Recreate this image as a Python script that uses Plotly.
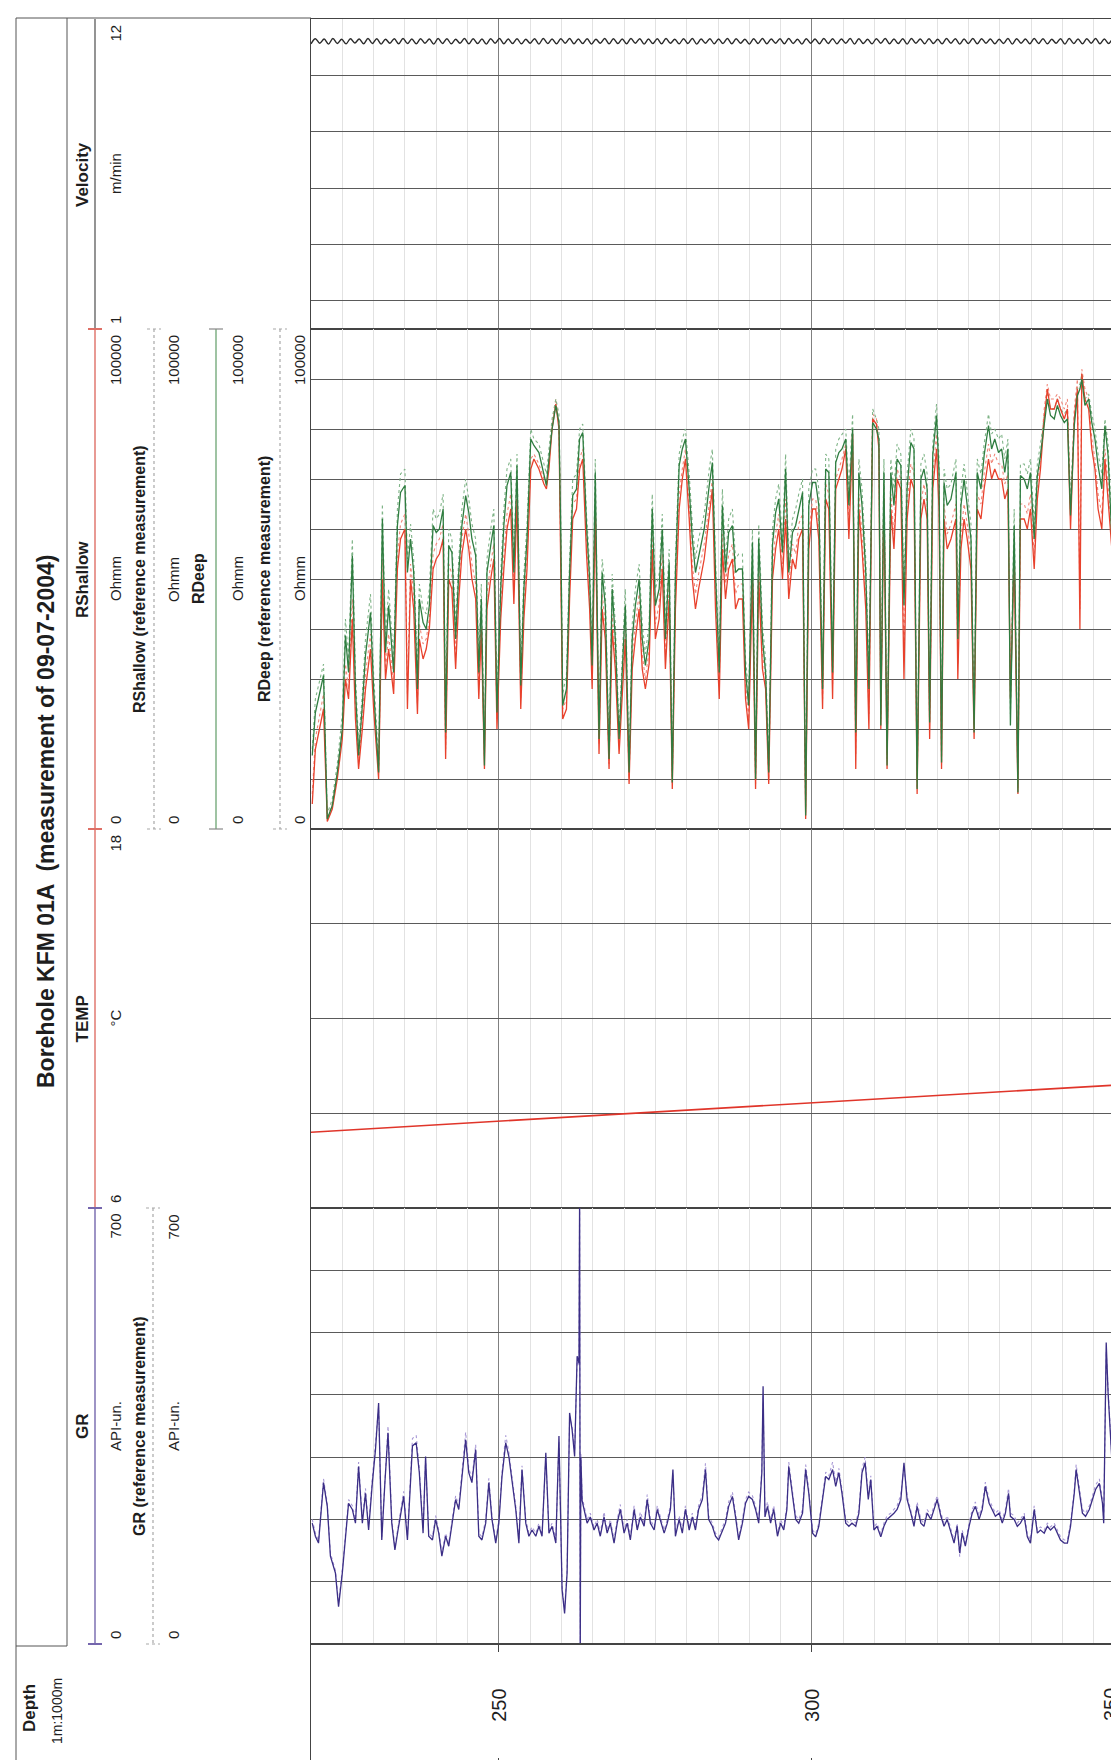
import plotly.graph_objects as go

W, H = 1119, 1760
FONT = "Liberation Sans, Arial, sans-serif"

# ---------------- data ----------------
DEPTH_RANGE = [220, 350]
DEPTH_TICKS = [250, 300, 350]
DEPTH_TICK_LABELS = ["250", "300", "350"]

# Velocity (m/min), logging samples every 0.7 m starting at 220 m
VEL_START = 220.0
VEL_STEP = 0.7
VELOCITY = [
    11.12, 11.30, 11.14, 11.29, 11.11, 11.31, 11.13, 11.28, 11.12, 11.30,
    11.15, 11.29, 11.12, 11.31, 11.13, 11.30, 11.11, 11.28, 11.14, 11.30,
    11.12, 11.31, 11.13, 11.29, 11.12, 11.30, 11.14, 11.29, 11.11, 11.31,
    11.13, 11.30, 11.12, 11.28, 11.14, 11.31, 11.12, 11.30, 11.13, 11.29,
    11.11, 11.30, 11.14, 11.31, 11.12, 11.29, 11.13, 11.30, 11.12, 11.28,
    11.14, 11.30, 11.11, 11.31, 11.13, 11.29, 11.12, 11.30, 11.14, 11.31,
    11.12, 11.29, 11.13, 11.30, 11.11, 11.28, 11.14, 11.31, 11.12, 11.30,
    11.13, 11.29, 11.12, 11.31, 11.14, 11.30, 11.11, 11.29, 11.13, 11.30,
    11.12, 11.31, 11.14, 11.28, 11.12, 11.30, 11.13, 11.31, 11.11, 11.29,
    11.14, 11.30, 11.12, 11.29, 11.13, 11.31, 11.12, 11.30, 11.14, 11.28,
    11.11, 11.30, 11.13, 11.31, 11.12, 11.29, 11.14, 11.30, 11.12, 11.31,
    11.13, 11.28, 11.11, 11.30, 11.14, 11.29, 11.12, 11.31, 11.13, 11.30,
    11.12, 11.29, 11.14, 11.31, 11.11, 11.30, 11.13, 11.28, 11.12, 11.30,
    11.14, 11.31, 11.12, 11.29, 11.13, 11.30, 11.11, 11.31, 11.14, 11.29,
    11.12, 11.30, 11.13, 11.28, 11.12, 11.31, 11.14, 11.30, 11.11, 11.29,
    11.13, 11.31, 11.12, 11.30, 11.14, 11.29, 11.12, 11.28, 11.13, 11.31,
    11.11, 11.30, 11.14, 11.29, 11.12, 11.31, 11.13, 11.30, 11.12, 11.28,
    11.14, 11.30, 11.11, 11.31, 11.13, 11.29, 11.12, 11.30, 11.14, 11.31,
    11.12, 11.29, 11.13, 11.30, 11.11, 11.31, 11.13,
]

# Temperature (deg C)
TEMP_DEPTH = [220, 245, 270, 295, 320, 350]
TEMP = [8.40, 8.69, 8.98, 9.27, 9.56, 9.91]

# Resistivity (kOhmm) - depths of read points
RES_DEPTH = [
    220.2, 220.7, 222.0, 222.6, 223.4, 224.2, 225.0, 225.5, 226.0, 226.6,
    227.1, 227.6, 228.2, 228.7, 229.5, 230.0, 230.8, 231.4, 231.9, 232.4,
    233.2, 233.8, 234.3, 235.0, 235.4, 235.9, 236.4, 237.0, 237.3, 237.9,
    238.4, 238.9, 239.5, 240.0, 240.5, 241.1, 241.5, 242.0, 242.5, 243.1,
    243.6, 244.1, 244.7, 245.2, 245.7, 246.3, 246.8, 247.2, 247.7, 248.1,
    248.7, 249.2, 249.7, 250.3, 250.8, 251.3, 251.9, 252.4, 252.9, 253.5,
    254.0, 254.5, 255.1, 255.6, 256.4, 257.2, 257.6, 258.0, 258.5, 259.1,
    259.6, 259.9, 260.2, 260.8, 261.3, 261.8, 262.4, 262.9, 263.4, 264.0,
    264.5, 264.9, 265.4, 266.0, 266.5, 267.0, 267.6, 268.1, 268.6, 269.2,
    269.7, 270.2, 270.8, 271.3, 271.8, 272.4, 272.9, 273.4, 274.0, 274.5,
    275.0, 275.6, 276.1, 276.6, 277.2, 277.7, 278.2, 278.8, 279.3, 279.8,
    280.4, 280.9, 281.4, 281.9, 282.8, 283.6, 284.1, 284.6, 285.2, 285.7,
    286.2, 286.7, 287.3, 287.8, 288.3, 288.9, 289.4, 289.9, 290.5, 291.0,
    291.5, 292.1, 292.6, 293.1, 293.7, 294.2, 294.7, 295.3, 295.8, 296.3,
    296.9, 297.4, 297.9, 298.5, 299.0, 299.5, 300.1, 300.6, 301.1, 301.7,
    302.2, 302.7, 303.3, 303.8, 304.3, 304.8, 305.4, 305.9, 306.5, 307.0,
    307.5, 308.0, 308.6, 309.1, 309.7, 310.3, 310.7, 311.0, 311.5, 312.0,
    312.6, 313.1, 313.6, 314.2, 314.7, 315.2, 315.8, 316.3, 316.8, 317.4,
    317.9, 318.4, 318.8, 319.3, 319.9, 320.3, 320.7, 321.1, 321.6, 322.2,
    323.0, 323.3, 323.8, 324.3, 324.8, 325.4, 325.9, 326.4, 327.0, 327.5,
    328.2, 328.7, 329.2, 329.8, 330.3, 330.8, 331.3, 331.7, 332.3, 332.9,
    333.3, 333.9, 334.4, 334.9, 335.5, 336.0, 336.5, 337.1, 337.6, 338.1,
    338.7, 339.2, 339.7, 340.3, 340.8, 341.3, 341.9, 342.4, 342.8, 343.1,
    343.6, 344.2, 344.7, 345.2, 345.7, 346.3, 346.8, 347.3, 347.9, 348.4,
    348.9, 349.5, 350.1,
]

RDEEP_KOHMM = [
    14.7, 23.3, 30.7, 2.0, 4.7, 11.3, 20.0, 38.7, 31.3, 54.7,
    28.0, 14.7, 24.7, 34.7, 43.3, 28.0, 11.3, 62.0, 35.3, 44.7,
    31.3, 60.7, 67.3, 68.7, 51.3, 58.0, 51.3, 28.0, 46.0, 41.3,
    40.0, 44.7, 60.7, 59.3, 60.0, 64.0, 19.3, 56.7, 55.3, 38.0,
    51.3, 60.7, 66.7, 63.3, 58.0, 54.7, 31.3, 46.0, 12.7, 51.3,
    56.7, 60.7, 23.3, 48.0, 60.7, 68.7, 71.3, 51.3, 72.7, 28.7,
    48.0, 58.0, 78.0, 76.7, 75.3, 71.3, 68.7, 74.0, 80.0, 84.7,
    81.3, 58.0, 24.7, 28.0, 51.3, 66.7, 68.0, 78.0, 79.3, 60.7,
    50.0, 32.7, 71.3, 18.0, 51.3, 44.7, 14.0, 48.0, 38.0, 18.0,
    31.3, 44.7, 11.3, 38.0, 44.7, 50.0, 38.0, 32.7, 38.0, 64.0,
    44.7, 48.0, 60.0, 38.0, 53.3, 9.3, 51.3, 72.7, 76.0, 78.0,
    68.0, 58.0, 51.3, 54.7, 60.0, 68.7, 73.3, 51.3, 31.3, 64.7,
    51.3, 59.3, 60.7, 51.3, 52.0, 52.0, 31.3, 24.7, 57.3, 10.0,
    58.0, 38.0, 31.3, 11.3, 56.7, 63.3, 66.0, 55.3, 72.0, 51.3,
    59.3, 60.7, 64.0, 67.3, 2.7, 64.7, 69.3, 69.3, 64.7, 28.0,
    72.0, 71.3, 31.3, 73.3, 75.3, 76.0, 78.0, 64.7, 80.0, 19.3,
    71.3, 64.7, 51.3, 28.0, 81.3, 80.0, 78.0, 20.7, 71.3, 12.7,
    71.3, 64.7, 74.0, 72.7, 44.7, 68.0, 77.3, 76.0, 8.0, 70.0,
    72.0, 68.0, 21.3, 74.7, 82.7, 71.3, 13.3, 69.3, 64.7, 66.0,
    71.3, 38.0, 64.7, 70.0, 64.7, 58.0, 19.3, 71.3, 68.0, 74.7,
    80.7, 76.0, 78.0, 75.3, 76.0, 71.3, 76.0, 20.7, 60.7, 7.3,
    70.7, 70.0, 68.0, 71.3, 58.0, 70.7, 74.7, 81.3, 86.0, 82.7,
    82.0, 84.7, 82.7, 81.3, 82.0, 62.7, 80.7, 86.7, 88.0, 90.0,
    84.7, 86.0, 81.3, 78.0, 72.7, 68.0, 80.7, 74.7, 58.0, 72.0,
    71.3, 14.7, 13.3,
]

RSHALLOW_KOHMM = [
    5.0, 16.0, 24.0, 1.5, 4.0, 10.0, 18.0, 30.0, 26.0, 42.0,
    22.0, 12.0, 20.0, 28.0, 36.0, 24.0, 10.0, 50.0, 30.0, 36.0,
    27.0, 52.0, 58.0, 60.0, 24.0, 50.0, 44.0, 23.0, 38.0, 34.0,
    36.0, 40.0, 52.0, 54.0, 55.0, 58.0, 14.0, 50.0, 48.0, 32.0,
    46.0, 55.0, 60.0, 56.0, 50.0, 46.0, 26.0, 40.0, 12.0, 44.0,
    50.0, 54.0, 20.0, 42.0, 52.0, 60.0, 64.0, 45.0, 66.0, 24.0,
    42.0, 52.0, 72.0, 74.0, 72.0, 69.0, 68.0, 72.0, 80.0, 85.0,
    80.0, 50.0, 22.0, 24.0, 46.0, 62.0, 64.0, 72.0, 74.0, 55.0,
    44.0, 28.0, 64.0, 15.0, 44.0, 38.0, 12.0, 40.0, 32.0, 15.0,
    26.0, 38.0, 9.0, 32.0, 38.0, 44.0, 32.0, 28.0, 33.0, 56.0,
    38.0, 42.0, 52.0, 32.0, 46.0, 8.0, 44.0, 64.0, 70.0, 74.0,
    62.0, 50.0, 44.0, 48.0, 54.0, 62.0, 68.0, 44.0, 26.0, 56.0,
    46.0, 52.0, 54.0, 44.0, 46.0, 46.0, 26.0, 20.0, 50.0, 8.0,
    50.0, 32.0, 28.0, 9.0, 50.0, 56.0, 60.0, 50.0, 62.0, 46.0,
    54.0, 52.0, 58.0, 60.0, 2.0, 56.0, 64.0, 64.0, 58.0, 24.0,
    66.0, 64.0, 26.0, 68.0, 70.0, 72.0, 76.0, 58.0, 79.0, 12.0,
    64.0, 56.0, 44.0, 20.0, 82.0, 81.0, 76.0, 20.0, 66.0, 12.0,
    64.0, 56.0, 70.0, 68.0, 30.0, 62.0, 70.0, 68.0, 7.0, 62.0,
    66.0, 62.0, 18.0, 68.0, 76.0, 64.0, 12.0, 62.0, 56.0, 58.0,
    62.0, 30.0, 56.0, 62.0, 58.0, 52.0, 18.0, 64.0, 62.0, 68.0,
    74.0, 70.0, 72.0, 70.0, 70.0, 66.0, 68.0, 26.0, 54.0, 7.0,
    62.0, 62.0, 60.0, 64.0, 52.0, 66.0, 72.0, 82.0, 88.0, 84.0,
    84.0, 86.0, 84.0, 82.0, 84.0, 60.0, 82.0, 88.0, 40.0, 91.0,
    86.0, 84.0, 76.0, 72.0, 64.0, 60.0, 74.0, 66.0, 56.0, 64.0,
    62.0, 14.0, 12.0,
]

RDEEP_REF_KOHMM = [
    16, 26, 33, 3, 6, 13, 23, 42, 34, 58,
    31, 17, 27, 38, 47, 31, 13, 65, 38, 48,
    34, 64, 71, 72, 54, 61, 54, 31, 49, 44,
    43, 48, 64, 62, 63, 67, 22, 60, 58, 41,
    54, 64, 70, 66, 61, 58, 34, 49, 15, 54,
    60, 64, 26, 51, 64, 72, 74, 54, 75, 31,
    51, 61, 80, 78, 77, 73, 71, 76, 82, 86,
    83, 61, 27, 31, 54, 70, 71, 80, 81, 63,
    53, 35, 74, 20, 54, 48, 16, 51, 41, 20,
    34, 48, 13, 41, 48, 53, 41, 35, 41, 67,
    48, 51, 63, 41, 56, 11, 54, 75, 78, 80,
    71, 61, 54, 58, 63, 72, 76, 54, 34, 68,
    54, 62, 64, 54, 55, 55, 34, 27, 60, 12,
    61, 41, 34, 13, 60, 66, 69, 58, 75, 54,
    62, 64, 67, 70, 4, 68, 72, 72, 68, 31,
    75, 74, 34, 76, 78, 79, 80, 68, 83, 22,
    74, 68, 54, 31, 84, 82, 80, 23, 74, 15,
    74, 68, 77, 75, 48, 71, 80, 78, 10, 73,
    75, 71, 24, 77, 85, 74, 15, 72, 68, 69,
    74, 41, 68, 73, 68, 61, 22, 74, 71, 77,
    83, 79, 80, 78, 79, 74, 78, 23, 64, 9,
    73, 73, 71, 74, 61, 73, 77, 83, 87, 84,
    84, 86, 84, 83, 84, 66, 82, 88, 89, 91,
    86, 87, 83, 80, 75, 71, 82, 77, 61, 74,
    74, 17, 15,
]

RSHALLOW_REF_KOHMM = [
    7, 18, 27, 2, 5, 11, 20, 33, 28, 46,
    24, 13, 22, 31, 39, 26, 11, 54, 32, 39,
    29, 55, 61, 63, 27, 53, 47, 25, 41, 37,
    38, 42, 55, 57, 58, 61, 16, 53, 51, 35,
    49, 58, 63, 59, 53, 49, 29, 43, 14, 47,
    53, 57, 22, 45, 55, 63, 67, 48, 69, 26,
    45, 55, 74, 75, 73, 70, 69, 73, 81, 86,
    81, 53, 24, 26, 49, 65, 66, 74, 76, 58,
    47, 30, 67, 17, 47, 41, 13, 43, 35, 17,
    29, 41, 10, 35, 41, 47, 35, 30, 36, 59,
    41, 45, 55, 35, 49, 9, 47, 67, 72, 76,
    65, 53, 47, 51, 57, 65, 70, 47, 29, 59,
    49, 55, 57, 47, 49, 49, 29, 22, 53, 9,
    53, 35, 30, 10, 53, 59, 63, 53, 66, 49,
    57, 55, 61, 63, 3, 59, 66, 66, 61, 26,
    69, 67, 29, 70, 72, 74, 77, 61, 80, 15,
    67, 59, 47, 23, 83, 82, 77, 22, 69, 14,
    67, 59, 72, 70, 35, 65, 73, 71, 8, 65,
    69, 65, 20, 71, 79, 67, 13, 65, 59, 61,
    65, 33, 59, 65, 61, 55, 20, 67, 65, 71,
    77, 73, 75, 73, 73, 69, 71, 28, 57, 8,
    65, 65, 63, 67, 55, 69, 74, 84, 89, 86,
    86, 87, 86, 84, 86, 63, 84, 90, 44, 92,
    88, 86, 78, 74, 67, 63, 76, 69, 58, 67,
    65, 16, 13,
]

# Gamma ray (API units)
GR_DEPTH = [
    220.2, 220.7, 221.2, 222.0, 222.6, 223.1, 223.9, 224.4, 225.0, 225.5,
    226.0, 226.6, 227.1, 227.6, 228.2, 228.7, 229.2, 229.8, 230.3, 230.8,
    231.3, 231.8, 232.3, 232.9, 233.4, 233.9, 234.8, 235.4, 236.2, 236.8,
    237.3, 237.9, 238.3, 238.8, 239.4, 239.9, 240.4, 240.9, 241.5, 242.0,
    242.5, 243.1, 243.6, 244.1, 244.7, 245.2, 245.7, 246.3, 246.8, 247.3,
    247.9, 248.4, 248.9, 249.5, 250.0, 250.5, 251.1, 251.6, 252.1, 252.7,
    253.2, 253.7, 254.3, 254.8, 255.3, 255.9, 256.4, 256.9, 257.5, 258.0,
    258.5, 259.1, 259.6, 260.1, 260.5, 260.9, 261.3, 261.7, 262.1, 262.5,
    262.8, 262.9, 263.0, 263.1, 263.3, 263.6, 264.1, 264.6, 265.2, 265.7,
    266.2, 266.8, 267.3, 267.8, 268.4, 268.9, 269.4, 270.0, 270.5, 271.0,
    271.6, 272.1, 272.6, 273.2, 273.7, 274.2, 274.8, 275.3, 275.8, 276.4,
    276.9, 277.4, 277.8, 278.2, 278.8, 279.3, 279.8, 280.4, 280.9, 281.4,
    281.9, 282.5, 283.0, 283.5, 284.1, 284.6, 285.1, 285.7, 286.2, 286.7,
    287.3, 287.8, 288.3, 288.9, 289.4, 289.9, 290.5, 291.0, 291.5, 292.0,
    292.2, 292.5, 292.9, 293.4, 293.9, 294.5, 295.0, 295.5, 296.0, 296.3,
    296.9, 297.4, 297.9, 298.5, 299.0, 299.5, 300.1, 300.6, 301.1, 301.7,
    302.2, 302.7, 303.3, 303.8, 304.3, 304.8, 305.4, 305.9, 306.4, 307.0,
    307.5, 308.0, 308.5, 309.0, 309.4, 309.9, 310.4, 311.0, 311.5, 312.0,
    312.6, 313.1, 313.6, 314.2, 314.7, 315.2, 315.8, 316.3, 316.8, 317.4,
    317.9, 318.4, 319.0, 319.5, 320.0, 320.6, 321.1, 321.6, 322.2, 322.7,
    323.2, 323.6, 324.0, 324.5, 325.1, 325.6, 326.1, 326.7, 327.2, 327.7,
    328.3, 328.8, 329.3, 329.9, 330.4, 330.9, 331.4, 331.7, 332.3, 332.8,
    333.3, 333.9, 334.4, 334.9, 335.5, 336.0, 336.5, 337.1, 337.6, 338.1,
    338.7, 339.2, 339.7, 340.3, 340.8, 341.3, 341.9, 342.2, 342.7, 343.2,
    343.7, 344.3, 344.8, 345.3, 345.9, 346.4, 346.6, 347.0, 347.3, 347.9,
    348.4, 348.9, 349.5, 350.1,
]

GR_API = [
    194, 173, 162, 259, 221, 141, 114, 60, 114, 167,
    226, 216, 194, 285, 194, 242, 183, 259, 312, 387,
    167, 259, 339, 194, 151, 183, 237, 167, 318, 323,
    275, 178, 301, 173, 167, 200, 178, 141, 173, 157,
    194, 232, 216, 269, 328, 275, 259, 312, 173, 167,
    194, 259, 200, 162, 194, 269, 323, 301, 259, 216,
    162, 280, 194, 173, 183, 173, 189, 173, 307, 178,
    189, 162, 334, 87, 49, 114, 371, 344, 301, 462,
    451, 720, -10, 300, 230, 216, 194, 204, 183, 194,
    173, 204, 178, 194, 162, 194, 216, 178, 194, 167,
    216, 183, 204, 189, 232, 194, 183, 216, 200, 178,
    194, 216, 280, 173, 200, 178, 216, 183, 204, 183,
    216, 232, 280, 200, 189, 173, 167, 183, 194, 221,
    237, 204, 167, 194, 226, 237, 232, 216, 194, 275,
    414, 204, 221, 194, 216, 173, 194, 183, 216, 285,
    242, 200, 194, 210, 280, 242, 178, 172, 189, 232,
    269, 264, 280, 253, 275, 242, 194, 189, 194, 189,
    210, 275, 291, 232, 264, 183, 189, 172, 189, 200,
    205, 210, 216, 232, 291, 232, 210, 189, 221, 194,
    189, 210, 200, 216, 232, 205, 189, 200, 178, 162,
    189, 146, 178, 157, 189, 210, 221, 200, 216, 253,
    226, 216, 205, 210, 194, 210, 242, 205, 200, 189,
    194, 205, 172, 162, 216, 178, 183, 178, 189, 183,
    189, 178, 167, 162, 162, 189, 242, 280, 242, 210,
    205, 216, 232, 248, 258, 226, 194, 484, 403, 296,
    275, 242, 232, 210,
]

GR_REF_API = [
    200, 178, 166, 265, 226, 146, 118, 66, 120, 172,
    232, 222, 200, 292, 200, 250, 188, 268, 322, 380,
    172, 270, 350, 200, 156, 188, 245, 172, 330, 335,
    282, 184, 296, 178, 172, 206, 183, 146, 178, 162,
    200, 238, 222, 276, 340, 282, 266, 320, 178, 172,
    200, 266, 206, 167, 200, 276, 335, 308, 266, 222,
    167, 286, 200, 178, 188, 178, 194, 178, 300, 183,
    194, 167, 326, 92, 55, 120, 365, 350, 306, 455,
    446, 720, -10, 306, 236, 222, 200, 210, 188, 200,
    178, 212, 183, 200, 167, 200, 224, 183, 200, 172,
    222, 188, 212, 194, 240, 200, 188, 222, 206, 183,
    200, 222, 272, 178, 206, 183, 222, 188, 210, 188,
    222, 240, 290, 206, 194, 178, 172, 188, 200, 228,
    244, 210, 172, 200, 232, 244, 238, 222, 200, 282,
    400, 210, 228, 200, 222, 178, 200, 188, 222, 292,
    248, 206, 200, 216, 288, 248, 183, 177, 194, 238,
    276, 270, 292, 260, 282, 248, 200, 194, 200, 194,
    216, 282, 300, 238, 270, 188, 194, 177, 194, 206,
    210, 216, 222, 240, 285, 238, 216, 194, 228, 200,
    194, 216, 206, 222, 238, 210, 194, 206, 183, 167,
    194, 140, 183, 162, 194, 216, 228, 206, 222, 260,
    232, 222, 210, 216, 200, 216, 250, 210, 206, 194,
    200, 210, 177, 167, 222, 183, 188, 183, 194, 188,
    194, 183, 172, 167, 167, 194, 248, 288, 248, 216,
    210, 222, 238, 255, 265, 232, 200, 470, 410, 302,
    282, 248, 238, 216,
]

VEL_DEPTH = [VEL_START + i * VEL_STEP for i in range(len(VELOCITY))]

# ---------------- layout helpers (pixel -> paper) ----------------
def fx(px):
    return px / W


def fy(py):
    return 1 - py / H


PLOT_X0, PLOT_X1 = 303, 1117
T_VEL = (11, 321)
T_RES = (321, 821)
T_TMP = (821, 1200)
T_GR = (1200, 1636)
T_DEP = (1636, 1758)

fig = go.Figure()

# Velocity
fig.add_trace(go.Scatter(x=VEL_DEPTH, y=VELOCITY, xaxis="x", yaxis="y", mode="lines",
                         line=dict(color="#2a2a2a", width=1.4, shape="spline"),
                         hoverinfo="skip"))
# Resistivity: reference (dotted) first, then measurement
fig.add_trace(go.Scatter(x=RES_DEPTH, y=RSHALLOW_REF_KOHMM, xaxis="x2", yaxis="y2", mode="lines",
                         line=dict(color="#f0877a", width=1.1, dash="dot"), hoverinfo="skip"))
fig.add_trace(go.Scatter(x=RES_DEPTH, y=RDEEP_REF_KOHMM, xaxis="x2", yaxis="y2", mode="lines",
                         line=dict(color="#7fb487", width=1.1, dash="dot"), hoverinfo="skip"))
fig.add_trace(go.Scatter(x=RES_DEPTH, y=RSHALLOW_KOHMM, xaxis="x2", yaxis="y2", mode="lines",
                         line=dict(color="#e8412c", width=1.3), hoverinfo="skip"))
fig.add_trace(go.Scatter(x=RES_DEPTH, y=RDEEP_KOHMM, xaxis="x2", yaxis="y2", mode="lines",
                         line=dict(color="#2f7d40", width=1.3), hoverinfo="skip"))
# Temperature
fig.add_trace(go.Scatter(x=TEMP_DEPTH, y=TEMP, xaxis="x3", yaxis="y3", mode="lines",
                         line=dict(color="#e0352a", width=1.6), hoverinfo="skip"))
# Gamma ray
fig.add_trace(go.Scatter(x=GR_DEPTH, y=GR_REF_API, xaxis="x4", yaxis="y4", mode="lines",
                         line=dict(color="#a99ad6", width=1.1, dash="dot"), hoverinfo="skip"))
fig.add_trace(go.Scatter(x=GR_DEPTH, y=GR_API, xaxis="x4", yaxis="y4", mode="lines",
                         line=dict(color="#3b2e86", width=1.3), hoverinfo="skip"))

BORDER = "#444444"
common_x = dict(domain=[fx(PLOT_X0), fx(PLOT_X1)], range=DEPTH_RANGE, showticklabels=False,
                ticks="", showgrid=True, gridcolor="#808080", gridwidth=1, tick0=0, dtick=50,
                minor=dict(tick0=0, dtick=5, showgrid=True, gridcolor="#e2e2e2", gridwidth=1),
                zeroline=False, showline=True, mirror=True, linecolor=BORDER, linewidth=1)
common_y = dict(showticklabels=False, ticks="", zeroline=False, showline=True, mirror=True,
                linecolor=BORDER, linewidth=1, showgrid=True, gridcolor="#5a5a5a", gridwidth=1)

layout = dict(
    width=W, height=H, margin=dict(l=0, r=0, t=0, b=0),
    paper_bgcolor="white", plot_bgcolor="white", showlegend=False, hovermode=False,
    xaxis=dict(common_x, anchor="y"),
    xaxis2=dict(common_x, anchor="y2", matches="x"),
    xaxis3=dict(common_x, anchor="y3", matches="x"),
    xaxis4=dict(common_x, anchor="y4", matches="x"),
    xaxis5=dict(domain=[fx(PLOT_X0), fx(PLOT_X1)], range=DEPTH_RANGE, anchor="y5",
                showticklabels=False, showgrid=False, zeroline=False,
                tickvals=DEPTH_TICKS, ticks="inside", ticklen=8, tickcolor=BORDER,
                showline=True, mirror="ticks", linecolor=BORDER, linewidth=1),
    yaxis=dict(common_y, domain=[fy(T_VEL[1]), fy(T_VEL[0])], range=[1, 12], tick0=0, dtick=2, anchor="x"),
    yaxis2=dict(common_y, domain=[fy(T_RES[1]), fy(T_RES[0])], range=[0, 100], tick0=0, dtick=10, anchor="x2"),
    yaxis3=dict(common_y, domain=[fy(T_TMP[1]), fy(T_TMP[0])], range=[6, 18], tick0=0, dtick=3, anchor="x3"),
    yaxis4=dict(common_y, domain=[fy(T_GR[1]), fy(T_GR[0])], range=[0, 700], tick0=0, dtick=100, anchor="x4"),
    yaxis5=dict(domain=[fy(T_DEP[1]), fy(T_DEP[0])], range=[0, 1], anchor="x5", showgrid=False,
                showticklabels=False, zeroline=False, showline=True, mirror=True,
                linecolor=BORDER, linewidth=1),
)
fig.update_layout(**layout)

# ---------------- header shapes ----------------
shapes = []


def hline(x0, y0, x1, y1, color="#555555", width=1, dash="solid"):
    shapes.append(dict(type="line", xref="paper", yref="paper", x0=fx(x0), y0=fy(y0),
                       x1=fx(x1), y1=fy(y1), line=dict(color=color, width=width, dash=dash)))


# frame
hline(8, 10, 8, 1758)
hline(8, 10, PLOT_X0, 10)
hline(8, 1758, PLOT_X0, 1758)
hline(59, 10, 59, 1638)
hline(8, 1638, 59, 1638)

RED_S = "#de6f66"
PUR_S = "#7466ad"
GRN_S = "#5f9c66"
DOT_S = "#a8a8a8"
# main scale lines
hline(87, T_VEL[0], 87, T_VEL[1], color="#666666", width=1.4)
hline(87, T_RES[0], 87, T_RES[1], color=RED_S, width=1.4)
hline(87, T_TMP[0], 87, T_TMP[1], color=RED_S, width=1.4)
hline(87, T_GR[0], 87, T_GR[1], color=PUR_S, width=1.4)
hline(80, T_RES[0], 94, T_RES[0], color=RED_S, width=2)
hline(80, T_TMP[0], 94, T_TMP[0], color=RED_S, width=2)
hline(80, T_GR[0], 94, T_GR[0], color=PUR_S, width=2)
hline(80, T_GR[1], 94, T_GR[1], color=PUR_S, width=2)
# reference / second-curve scale lines
for xs, col, dsh in [(146, DOT_S, "dot"), (208, GRN_S, "solid"), (272, DOT_S, "dot")]:
    hline(xs, T_RES[0], xs, T_RES[1], color=col, width=1.2, dash=dsh)
    tcol = "#888888" if dsh == "solid" else DOT_S
    hline(xs - 7, T_RES[0], xs + 7, T_RES[0], color=tcol, width=1.2, dash=dsh)
    hline(xs - 7, T_RES[1], xs + 7, T_RES[1], color=tcol, width=1.2, dash=dsh)
hline(145, T_GR[0], 145, T_GR[1], color=DOT_S, width=1.2, dash="dot")
hline(138, T_GR[0], 152, T_GR[0], color=DOT_S, width=1.2, dash="dot")
hline(138, T_GR[1], 152, T_GR[1], color=DOT_S, width=1.2, dash="dot")

fig.update_layout(shapes=shapes)

# ---------------- header text ----------------
ann = []


def vtext(text, x, y, size=15, bold=False, yanchor="middle", color="#1e1e1e"):
    ann.append(dict(text=f"<b>{text}</b>" if bold else text, x=fx(x), y=fy(y),
                    xref="paper", yref="paper", showarrow=False, textangle=-90,
                    xanchor="center", yanchor=yanchor,
                    font=dict(size=size, color=color, family=FONT)))


vtext("Borehole KFM 01A  (measurement of 09-07-2004)", 38, 814, size=23, bold=True)
vtext("Depth", 21, 1700, size=17, bold=True)
vtext("1m:1000m", 49, 1703, size=14)

c_vel = sum(T_VEL) / 2
c_res = sum(T_RES) / 2
c_tmp = sum(T_TMP) / 2
c_gr = sum(T_GR) / 2

# velocity
vtext("Velocity", 74, c_vel, size=17, bold=True)
vtext("m/min", 107, c_vel, size=15)
vtext("12", 107, T_VEL[0] + 4, size=15, yanchor="top")
vtext("1", 107, T_VEL[1] - 3, size=15, yanchor="bottom")
# resistivity
vtext("RShallow", 74, c_res, size=17, bold=True)
vtext("RShallow (reference measurement)", 131, c_res, size=16, bold=True)
vtext("RDeep", 190, c_res, size=16, bold=True)
vtext("RDeep (reference measurement)", 256, c_res, size=16, bold=True)
for xc in (107, 165, 229, 291):
    vtext("Ohmm", xc, c_res, size=15)
    vtext("100000", xc, T_RES[0] + 4, size=15, yanchor="top")
    vtext("0", xc, T_RES[1] - 3, size=15, yanchor="bottom")
# temperature
vtext("TEMP", 74, c_tmp, size=17, bold=True)
vtext("°C", 107, c_tmp, size=15)
vtext("18", 107, T_TMP[0] + 4, size=15, yanchor="top")
vtext("6", 107, T_TMP[1] - 3, size=15, yanchor="bottom")
# gamma ray
vtext("GR", 74, c_gr, size=17, bold=True)
vtext("GR (reference measurement)", 131, c_gr, size=16, bold=True)
for xc in (107, 165):
    vtext("API-un.", xc, c_gr, size=15)
    vtext("700", xc, T_GR[0] + 4, size=15, yanchor="top")
    vtext("0", xc, T_GR[1] - 3, size=15, yanchor="bottom")

# depth labels through the depth axis (last one nudged inside the right edge)
for i, (v, lab) in enumerate(zip(DEPTH_TICKS, DEPTH_TICK_LABELS)):
    last = i == len(DEPTH_TICKS) - 1
    ann.append(dict(text=lab, x=v, y=0.5, xref="x5", yref="y5", showarrow=False,
                    textangle=-90, xanchor="center", yanchor="middle",
                    xshift=-14 if last else 0,
                    font=dict(size=20, color="#1e1e1e", family=FONT)))

fig.update_layout(annotations=ann)

fig.write_html("out.html")
